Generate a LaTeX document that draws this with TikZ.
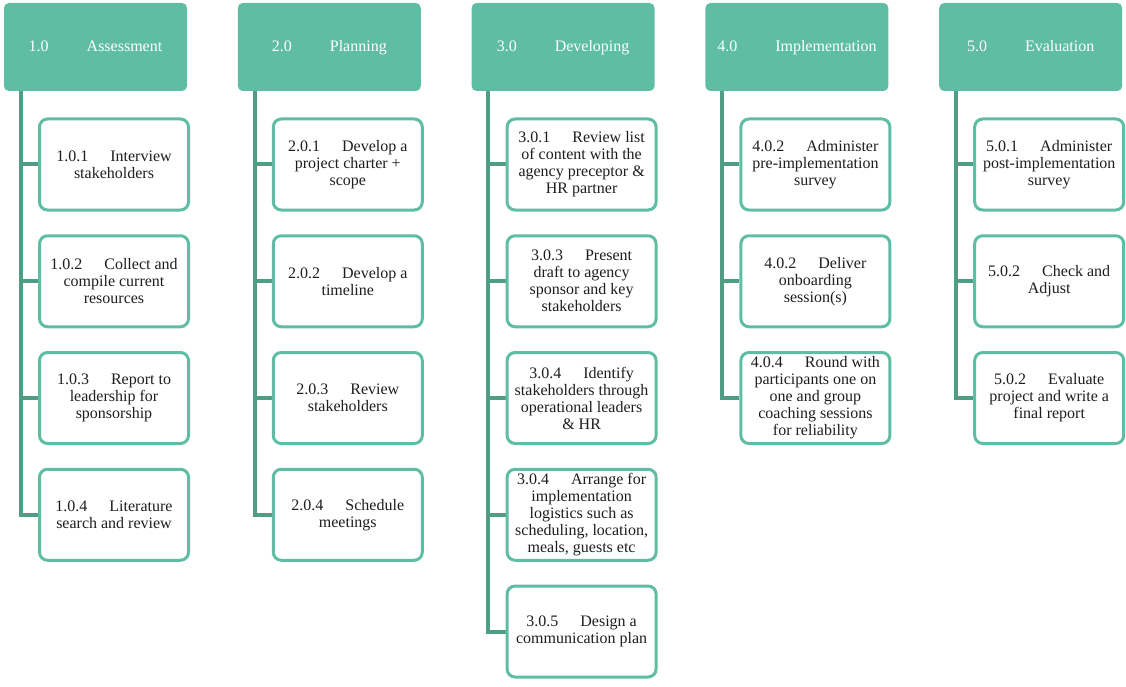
\documentclass[tikz,border=0pt]{standalone}
\usepackage{fontspec}
\setmainfont{Liberation Serif}
\usetikzlibrary{backgrounds}
\definecolor{tealA}{RGB}{94,189,163}
\definecolor{trunkC}{RGB}{78,157,132}
\definecolor{txtC}{RGB}{30,30,30}
\newcommand{\gap}{\hspace{22pt}}
\newcommand{\hgap}{\hspace{38pt}}
\begin{document}
\begin{tikzpicture}[x=1pt,y=-1pt,
  hdr/.style={rectangle, rounded corners=5pt, fill=tealA, minimum width=183pt, minimum height=88pt, text=white, font=\fontsize{16}{18}\selectfont, inner sep=0pt, text height=12pt, text depth=3pt},
  box/.style={rectangle, rounded corners=8pt, draw=tealA, line width=3pt, fill=white, minimum width=149pt, minimum height=91pt, align=center, text=txtC, font=\fontsize{16}{17}\selectfont, inner sep=0pt},
  link/.style={draw=trunkC, line width=4pt}]
\useasboundingbox (0,0) rectangle (1126,687);

% headers
\node[hdr] (h1) at (95.5,47) {1.0\hgap Assessment};
\node[hdr] (h2) at (329.3,47) {2.0\hgap Planning};
\node[hdr] (h3) at (563.1,47) {3.0\hgap Developing};
\node[hdr] (h4) at (796.9,47) {4.0\hgap Implementation};
\node[hdr] (h5) at (1030.7,47) {5.0\hgap Evaluation};

% column 1
\node[box] (b11) at (114,164.5) {1.0.1\gap Interview\\stakeholders};
\node[box] (b12) at (114,281.25) {1.0.2\gap Collect and\\compile current\\resources};
\node[box] (b13) at (114,398) {1.0.3\gap Report to\\leadership for\\sponsorship};
\node[box] (b14) at (114,514.75) {1.0.4\gap Literature\\search and review};

% column 2
\node[box] (b21) at (347.8,164.5) {2.0.1\gap Develop a\\project charter +\\scope};
\node[box] (b22) at (347.8,281.25) {2.0.2\gap Develop a\\timeline};
\node[box] (b23) at (347.8,398) {2.0.3\gap Review\\stakeholders};
\node[box] (b24) at (347.8,514.75) {2.0.4\gap Schedule\\meetings};

% column 3
\node[box] (b31) at (581.6,164.5) {3.0.1\gap Review list\\of content with the\\agency preceptor \&\\HR partner};
\node[box] (b32) at (581.6,281.25) {3.0.3\gap Present\\draft to agency\\sponsor and key\\stakeholders};
\node[box] (b33) at (581.6,398) {3.0.4\gap Identify\\stakeholders through\\operational leaders\\\& HR};
\node[box] (b34) at (581.6,514.75) {3.0.4\gap Arrange for\\implementation\\logistics such as\\scheduling, location,\\meals, guests etc};
\node[box] (b35) at (581.6,631.5) {3.0.5\gap Design a\\communication plan};

% column 4
\node[box] (b41) at (815.4,164.5) {4.0.2\gap Administer\\pre-implementation\\survey};
\node[box] (b42) at (815.4,281.25) {4.0.2\gap Deliver\\onboarding\\session(s)};
\node[box] (b43) at (815.4,398) {4.0.4\gap Round with\\participants one on\\one and group\\coaching sessions\\for reliability};

% column 5
\node[box] (b51) at (1049.2,164.5) {5.0.1\gap Administer\\post-implementation\\survey};
\node[box] (b52) at (1049.2,281.25) {5.0.2\gap Check and\\Adjust};
\node[box] (b53) at (1049.2,398) {5.0.2\gap Evaluate\\project and write a\\final report};

% trunk tops
\path (h1.south west) ++(17,0) coordinate (t1);
\path (h2.south west) ++(17,0) coordinate (t2);
\path (h3.south west) ++(17,0) coordinate (t3);
\path (h4.south west) ++(17,0) coordinate (t4);
\path (h5.south west) ++(17,0) coordinate (t5);

\begin{scope}[on background layer]
  \draw[link] (t1) |- (b14.west);
  \foreach \b in {b11,b12,b13} \draw[link] (\b.west) -- (\b.west -| t1);
  \draw[link] (t2) |- (b24.west);
  \foreach \b in {b21,b22,b23} \draw[link] (\b.west) -- (\b.west -| t2);
  \draw[link] (t3) |- (b35.west);
  \foreach \b in {b31,b32,b33,b34} \draw[link] (\b.west) -- (\b.west -| t3);
  \draw[link] (t4) |- (b43.west);
  \foreach \b in {b41,b42} \draw[link] (\b.west) -- (\b.west -| t4);
  \draw[link] (t5) |- (b53.west);
  \foreach \b in {b51,b52} \draw[link] (\b.west) -- (\b.west -| t5);
\end{scope}
\end{tikzpicture}
\end{document}
